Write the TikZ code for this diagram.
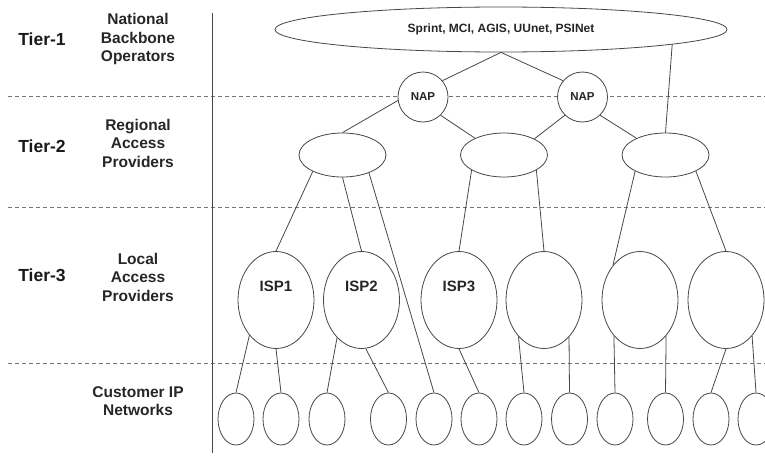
\documentclass[tikz,border=0pt]{standalone}
\usepackage{fontspec}
\setmainfont{Liberation Sans}
\usetikzlibrary{shapes.geometric}

\begin{document}
\begin{tikzpicture}[x=1pt, y=-1pt,
    net/.style={draw=black!72, fill=white, line width=0.8pt, inner sep=0pt},
    oval/.style={net, ellipse},
    link/.style={draw=black!72, line width=0.8pt},
    tierlabel/.style={text=black!90, font=\bfseries\fontsize{17.5}{21}\selectfont},
    rolelabel/.style={text=black!85, align=center, font=\bfseries\fontsize{15.5}{18.5}\selectfont},
    sep/.style={draw=black!55, dashed, dash pattern=on 4pt off 3pt, line width=0.8pt}]
    \useasboundingbox (0,0) rectangle (765,455);

    % tier separators and left column
    \draw[sep] (8,96) -- (765,96);
    \draw[sep] (8,207) -- (765,207);
    \draw[sep] (8,363) -- (765,363);
    \draw[link] (212,13) -- (212,453);

    \node[tierlabel] (t1) at (42,39) {Tier-1};
    \node[tierlabel] (t2) at (42,146) {Tier-2};
    \node[tierlabel] (t3) at (42,275) {Tier-3};
    \node[rolelabel] (r1) at (138,39) {National\\Backbone\\Operators};
    \node[rolelabel] (r2) at (138,143) {Regional\\Access\\Providers};
    \node[rolelabel] (r3) at (138,277) {Local\\Access\\Providers};
    \node[rolelabel] (r4) at (138,401) {Customer IP\\Networks};

    % backbone and NAPs
    \node[oval, minimum width=452pt, minimum height=45pt, font=\bfseries\fontsize{12}{14}\selectfont, text=black!85] (bb) at (501,29.5) {Sprint, MCI, AGIS, UUnet, PSINet};
    \node[net, circle, minimum size=50pt, font=\bfseries\fontsize{11.5}{14}\selectfont, text=black!85] (nap1) at (423,97) {NAP};
    \node[net, circle, minimum size=50pt, font=\bfseries\fontsize{11.5}{14}\selectfont, text=black!85] (nap2) at (582.5,97) {NAP};

    % regional providers
    \node[oval, minimum width=87pt, minimum height=44pt] (rap1) at (342.5,155) {};
    \node[oval, minimum width=87pt, minimum height=44pt] (rap2) at (504,155) {};
    \node[oval, minimum width=87pt, minimum height=44pt] (rap3) at (665.5,155) {};

    % local providers
    \foreach \x [count=\i] in {276,361.5,459,544,640,726}
      \node[oval, minimum width=76pt, minimum height=97pt] (isp\i) at (\x,300) {};
    \foreach \i in {1,2,3}
      \node[text=black!85, font=\bfseries\fontsize{15}{18}\selectfont] (ispname\i) at ([yshift=14pt]isp\i.center) {ISP\i};

    % customer networks
    \foreach \x [count=\i] in {236,281,327,388.5,434,479,524,569.5,615,665.5,711,756}
      \node[oval, minimum width=36pt, minimum height=52pt] (cust\i) at (\x,419) {};

    \draw[link] (bb.south) -- (nap1.40);
    \draw[link] (bb.south) -- (nap2.140);
    \draw[link] (bb.355) -- (rap3.north);
    \draw[link] (nap1.188) -- (rap1.north);
    \draw[link] (nap1.314) -- (rap2.150);
    \draw[link] (nap2.226) -- (rap2.28);
    \draw[link] (nap2.314) -- (rap3.150);

    \draw[link] (rap1.209) -- (isp1.north);
    \draw[link] (rap1.south) -- (isp2.north);
    \draw[link] (rap1.326) -- (cust5.north);
    \draw[link] (rap2.205) -- (isp3.north);
    \draw[link] (rap2.335) -- (isp4.north);
    \draw[link] (rap3.208) -- (isp5.128);
    \draw[link] (rap3.332) -- (isp6.north);

    \draw[link] (isp1.233) -- (cust1.north);
    \draw[link] (isp1.south) -- (cust2.north);
    \draw[link] (isp2.237) -- (cust3.north);
    \draw[link] (isp2.275) -- (cust4.north);
    \draw[link] (isp3.south) -- (cust6.north);
    \draw[link] (isp4.235) -- (cust7.north);
    \draw[link] (isp4.304) -- (cust8.north);
    \draw[link] (isp5.234) -- (cust9.north);
    \draw[link] (isp5.306) -- (cust10.north);
    \draw[link] (isp6.south) -- (cust11.north);
    \draw[link] (isp6.306) -- (cust12.north);
  \end{tikzpicture}
\end{document}
